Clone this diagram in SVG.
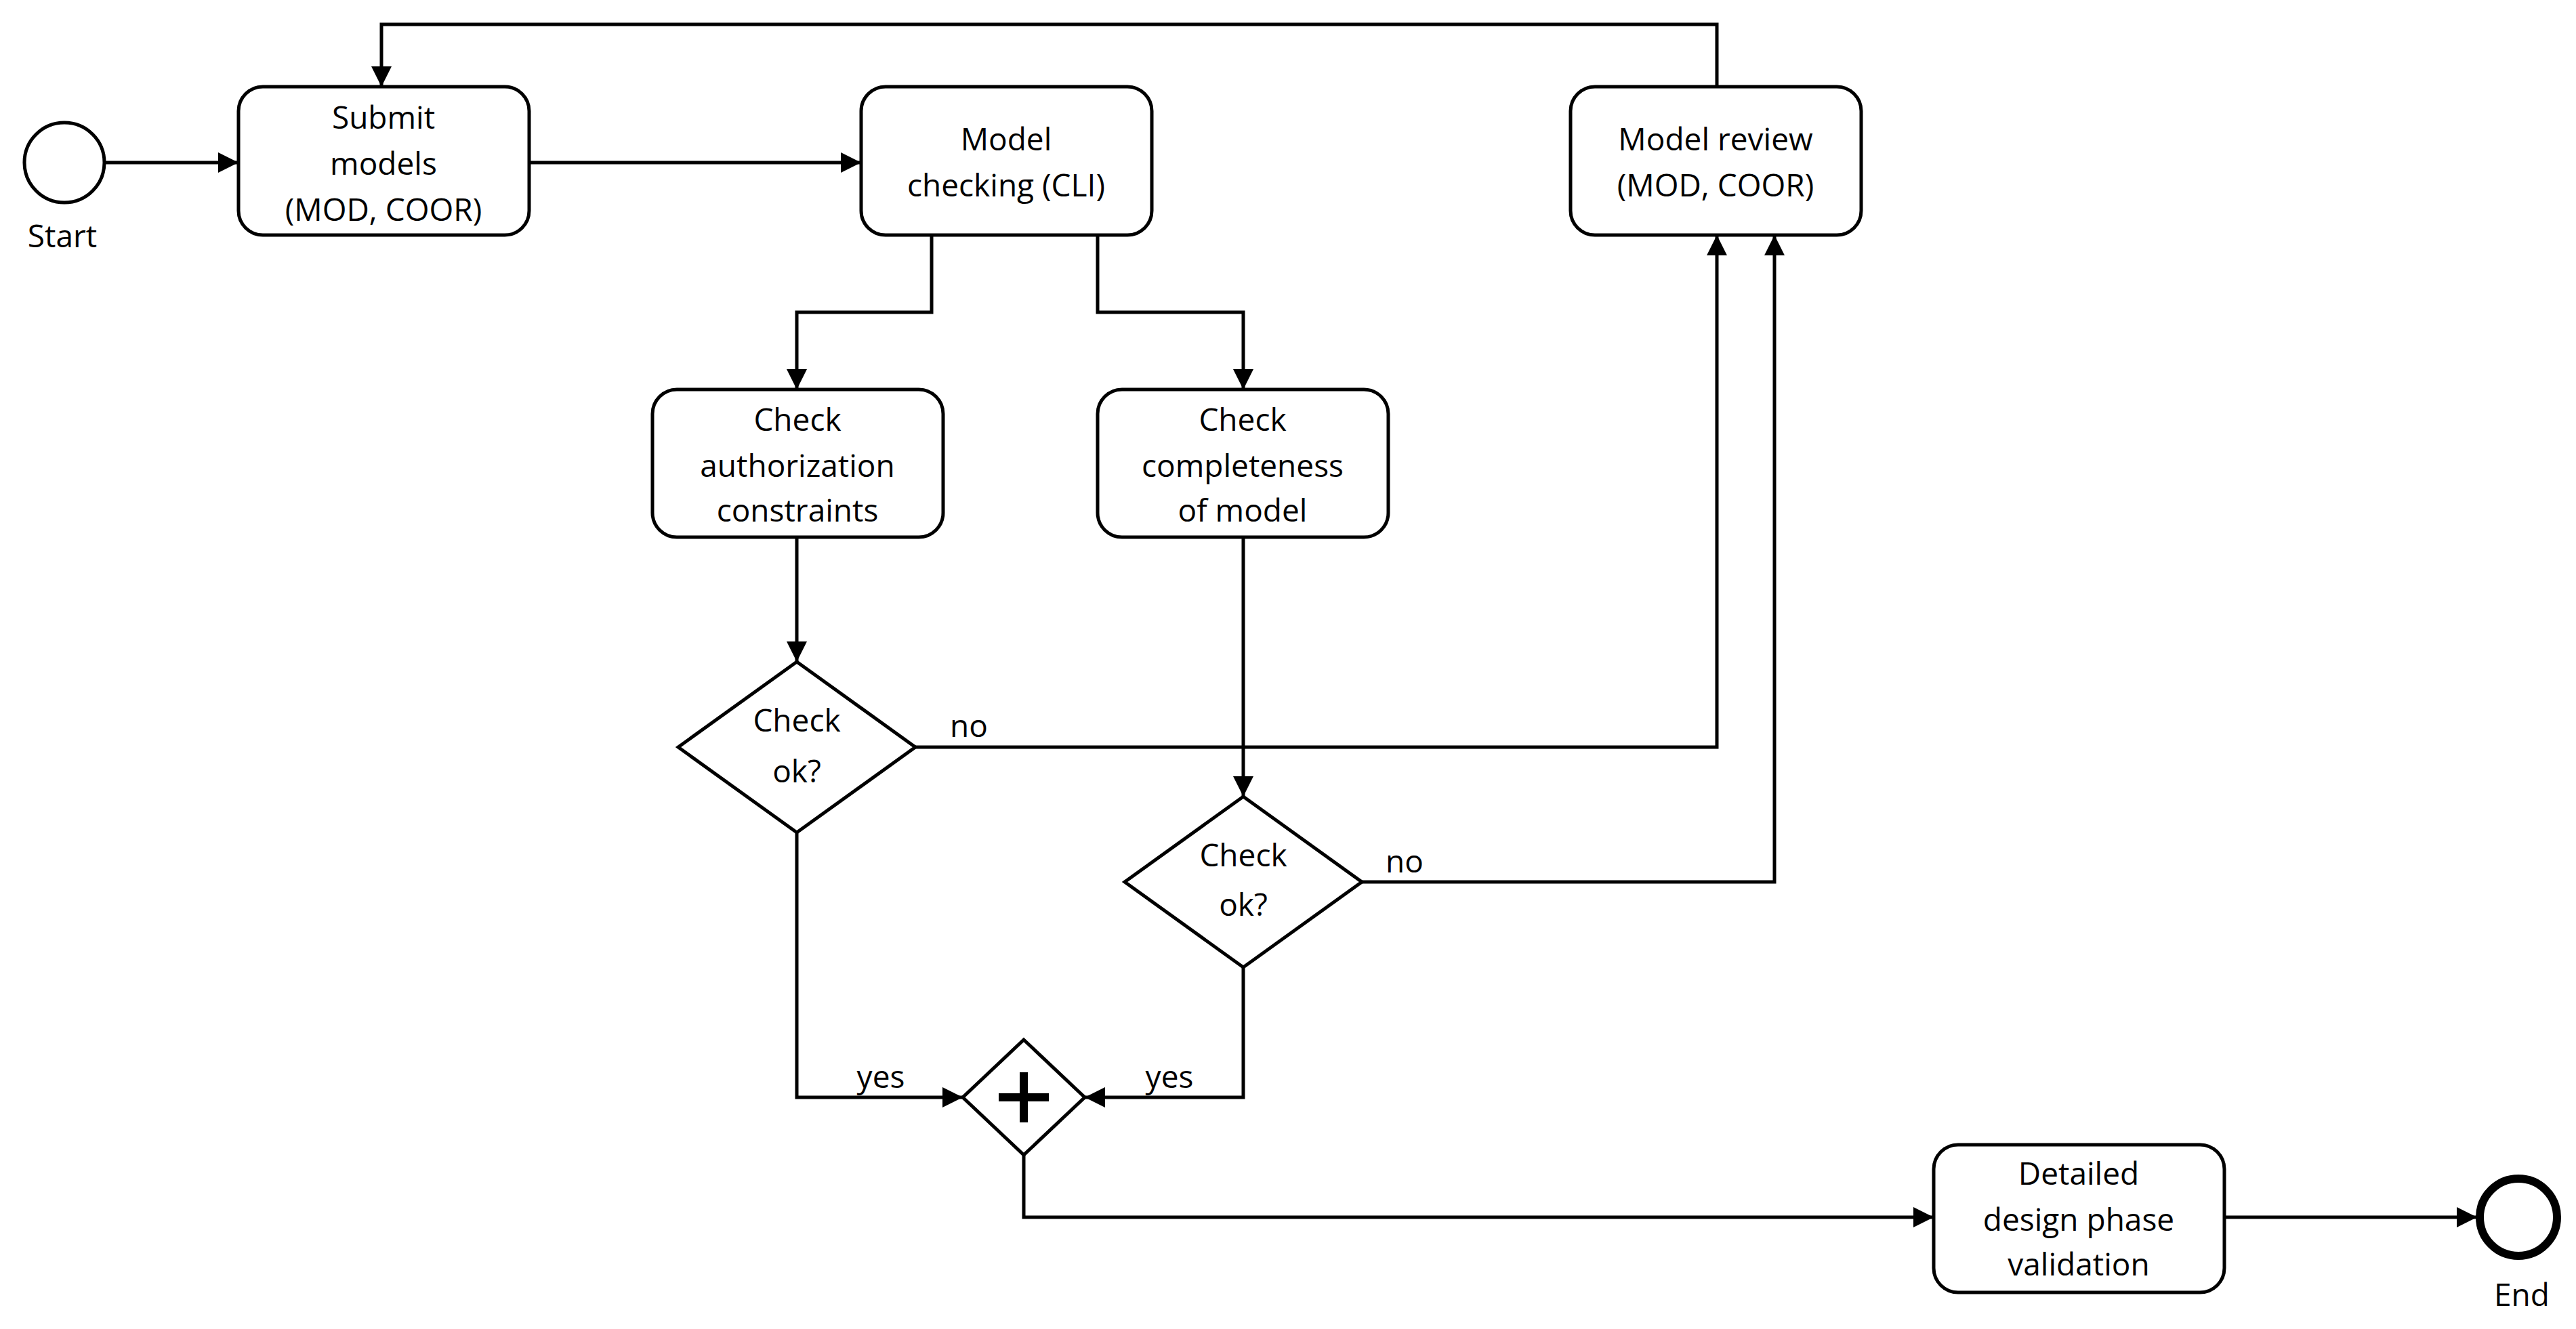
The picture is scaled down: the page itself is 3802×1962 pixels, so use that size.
<svg xmlns="http://www.w3.org/2000/svg" width="3802" height="1962" viewBox="0 0 3802 1962">
<style>
.n{fill:#fff;stroke:#000;stroke-width:5}
.t{font-family:"Open Sans","Liberation Sans",sans-serif;font-size:46px;fill:#000;text-anchor:middle;dominant-baseline:central}
.c{fill:none;stroke:#000;stroke-width:5}
</style>
<defs><marker id="a" viewBox="0 0 10 10" refX="10" refY="5" markerWidth="6" markerHeight="6" orient="auto" markerUnits="strokeWidth"><path d="M0,0L10,5L0,10z" fill="#000"/></marker></defs>
<g id="connectors">
<path class="c" marker-end="url(#a)" d="M156,240H352"/>
<path class="c" marker-end="url(#a)" d="M781,240H1271"/>
<path class="c" marker-end="url(#a)" d="M1375,347V461H1176V575"/>
<path class="c" marker-end="url(#a)" d="M1620,347V461H1835V575"/>
<path class="c" marker-end="url(#a)" d="M1176,793V977"/>
<path class="c" marker-end="url(#a)" d="M1835,793V1176"/>
<path class="c" marker-end="url(#a)" d="M1351,1103H2534V347"/>
<path class="c" marker-end="url(#a)" d="M2010,1302H2619V347"/>
<path class="c" marker-end="url(#a)" d="M2534,128V36H563V128"/>
<path class="c" marker-end="url(#a)" d="M1176,1229V1620H1421"/>
<path class="c" marker-end="url(#a)" d="M1835,1428V1620H1601"/>
<path class="c" marker-end="url(#a)" d="M1511,1705V1797H2854"/>
<path class="c" marker-end="url(#a)" d="M3283,1797H3656"/>
<text class="t" x="1430" y="1070">no</text>
<text class="t" x="2073" y="1270">no</text>
<text class="t" x="1300" y="1588">yes</text>
<text class="t" x="1726" y="1588">yes</text>
</g>
<g id="start"><circle class="n" cx="95" cy="240" r="59"/><text class="t" x="92" y="347">Start</text></g>
<g id="submit"><rect class="n" x="352" y="128" width="429" height="219" rx="36"/><text class="t" x="566" y="172">Submit</text><text class="t" x="566" y="240">models</text><text class="t" x="566" y="308">(MOD, COOR)</text></g>
<g id="checking"><rect class="n" x="1271" y="128" width="429" height="219" rx="36"/><text class="t" x="1485" y="204">Model</text><text class="t" x="1485" y="272">checking (CLI)</text></g>
<g id="review"><rect class="n" x="2318" y="128" width="429" height="219" rx="36"/><text class="t" x="2532" y="204">Model review</text><text class="t" x="2532" y="272">(MOD, COOR)</text></g>
<g id="auth"><rect class="n" x="963" y="575" width="429" height="218" rx="36"/><text class="t" x="1177" y="618">Check</text><text class="t" x="1177" y="686">authorization</text><text class="t" x="1177" y="752">constraints</text></g>
<g id="compl"><rect class="n" x="1620" y="575" width="429" height="218" rx="36"/><text class="t" x="1834" y="618">Check</text><text class="t" x="1834" y="686">completeness</text><text class="t" x="1834" y="752">of model</text></g>
<g id="d1"><path class="n" d="M1176,977L1351,1103L1176,1229L1001,1103z"/><text class="t" x="1176" y="1062">Check</text><text class="t" x="1176" y="1137">ok?</text></g>
<g id="d2"><path class="n" d="M1835,1176L2010,1302L1835,1428L1660,1302z"/><text class="t" x="1835" y="1261">Check</text><text class="t" x="1835" y="1334">ok?</text></g>
<g id="gw"><path class="n" d="M1511,1535L1601,1620L1511,1705L1421,1620z"/><path d="M1511,1583V1657M1474,1620H1548" stroke="#000" stroke-width="12"/></g>
<g id="detailed"><rect class="n" x="2854" y="1690" width="429" height="218" rx="36"/><text class="t" x="3068" y="1731">Detailed</text><text class="t" x="3068" y="1799">design phase</text><text class="t" x="3068" y="1865">validation</text></g>
<g id="end"><circle cx="3717" cy="1797" r="57" fill="#fff" stroke="#000" stroke-width="12"/><text class="t" x="3722" y="1910">End</text></g>
</svg>
